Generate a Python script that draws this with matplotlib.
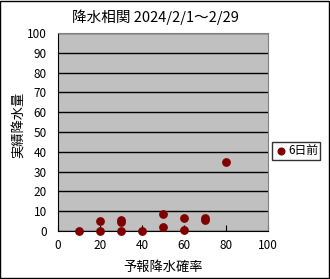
import matplotlib.pyplot as plt
from matplotlib.patches import Rectangle

plt.rcParams['font.family'] = ['Noto Sans CJK JP', 'DejaVu Sans']

# forecast probability (%) vs actual precipitation (mm)
prob = [10, 20, 20, 30, 30, 30, 40, 50, 50, 60, 60, 70, 70, 80]
rain = [0, 0, 5, 0, 4.5, 5.5, 0, 2, 8.5, 0.5, 6.5, 5.5, 6.5, 35]
series_name = '6日前'
title = '降水相関 2024/2/1～2/29'

fig = plt.figure(figsize=(3.3, 2.79), dpi=100)
fig.patch.set_facecolor('white')
fig.patches.append(Rectangle((0.0015, 0.002), 0.996, 0.995, transform=fig.transFigure,
                             fill=False, edgecolor='black', linewidth=1))

ax = fig.add_axes([0.176, 0.172, 0.636, 0.71])
ax.set_facecolor('#C0C0C0')
ax.scatter(prob, rain, s=28, color='#800000', label=series_name, zorder=3,
           clip_on=False)

ax.set_xlim(0, 100)
ax.set_ylim(0, 100)
ax.set_xticks(range(0, 101, 20))
ax.set_yticks(range(0, 101, 10))
ax.yaxis.grid(True, color='black', linewidth=1)
ax.set_axisbelow(True)
ax.tick_params(axis='x', direction='in', length=4, labelsize=8.5, pad=6)
ax.tick_params(axis='y', direction='out', length=0, labelsize=8.5, pad=8)
for s in ['top', 'right']:
    ax.spines[s].set_color('#808080')
for s in ['left', 'bottom']:
    ax.spines[s].set_color('black')

ax.set_xlabel('予報降水確率', fontsize=9.5, labelpad=6)
ax.set_ylabel('実績降水量', fontsize=9.5)
ax.yaxis.set_label_coords(-0.16, 0.535)
fig.text(0.47, 0.938, title, fontsize=10.5, ha='center', va='center')

leg = ax.legend(loc='center left', bbox_to_anchor=(1.0, 0.404), fontsize=8.5,
                frameon=True, fancybox=False, edgecolor='black', handletextpad=0.0,
                borderpad=0.2, handlelength=1.2, markerscale=0.9, borderaxespad=0.3)
leg.get_frame().set_linewidth(1)

fig.savefig('out.png', dpi=100)
